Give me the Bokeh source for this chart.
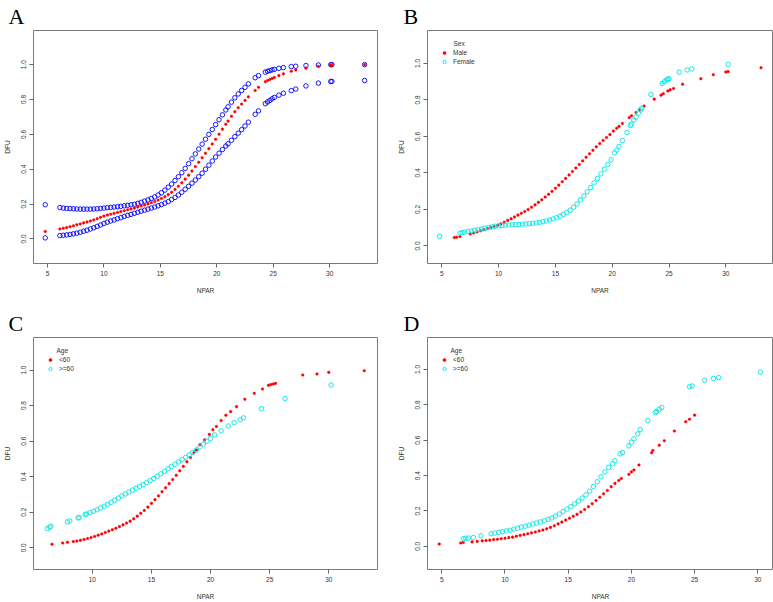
from bokeh.plotting import figure
from bokeh.layouts import column, row
from bokeh.models import (Range1d, FixedTicker, NumeralTickFormatter, Legend, LegendItem, Label)
from bokeh.embed import file_html
from bokeh.resources import INLINE

# ---------------- Panel A: overall fit with confidence limits ----------------
a_npar = [4.8, 6.1, 6.4, 6.7, 7.0, 7.3, 7.6, 7.9, 8.2, 8.5, 8.8, 9.1, 9.4, 9.7, 10.0, 10.3, 10.6, 10.9,
          11.2, 11.5, 11.8, 12.1, 12.4, 12.7, 13.0, 13.3, 13.6, 13.9, 14.2, 14.5, 14.8, 15.1, 15.4, 15.7,
          16.0, 16.3, 16.6, 16.9, 17.2, 17.5, 17.8, 18.1, 18.4, 18.7, 19.0, 19.3, 19.6, 19.9, 20.2, 20.5,
          20.8, 21.0, 21.3, 21.6, 21.9, 22.2, 22.5, 22.8, 23.4, 23.7, 24.3, 24.5, 24.7, 24.9, 25.1, 25.5,
          25.9, 26.6, 27.0, 27.9, 29.0, 30.1, 30.2, 33.1]
a_fit = [0.043, 0.057, 0.061, 0.065, 0.070, 0.075, 0.081, 0.086, 0.092, 0.097, 0.103, 0.109, 0.116, 0.124,
         0.131, 0.137, 0.142, 0.147, 0.152, 0.157, 0.162, 0.167, 0.172, 0.177, 0.183, 0.189, 0.195, 0.201,
         0.208, 0.215, 0.223, 0.232, 0.242, 0.254, 0.268, 0.284, 0.302, 0.322, 0.343, 0.366, 0.390, 0.415,
         0.440, 0.466, 0.492, 0.518, 0.545, 0.572, 0.601, 0.630, 0.658, 0.676, 0.704, 0.730, 0.753, 0.774,
         0.795, 0.815, 0.852, 0.870, 0.902, 0.909, 0.915, 0.921, 0.926, 0.937, 0.947, 0.962, 0.970, 0.980,
         0.990, 0.996, 0.996, 1.000]
a_upper = [0.196, 0.180, 0.177, 0.175, 0.174, 0.173, 0.172, 0.171, 0.171, 0.171, 0.171, 0.172, 0.173, 0.175,
           0.177, 0.179, 0.181, 0.183, 0.185, 0.187, 0.190, 0.193, 0.196, 0.199, 0.204, 0.210, 0.217, 0.224,
           0.232, 0.241, 0.252, 0.265, 0.280, 0.297, 0.315, 0.335, 0.357, 0.380, 0.405, 0.432, 0.460, 0.488,
           0.516, 0.544, 0.572, 0.600, 0.628, 0.656, 0.684, 0.712, 0.740, 0.758, 0.785, 0.810, 0.832, 0.852,
           0.870, 0.890, 0.925, 0.937, 0.957, 0.962, 0.966, 0.970, 0.973, 0.979, 0.983, 0.989, 0.991, 0.995,
           0.998, 1.000, 1.000, 1.000]
a_lower = [0.006, 0.019, 0.021, 0.023, 0.026, 0.029, 0.033, 0.038, 0.044, 0.050, 0.057, 0.064, 0.072, 0.080,
           0.089, 0.096, 0.103, 0.109, 0.116, 0.122, 0.129, 0.135, 0.141, 0.147, 0.153, 0.159, 0.165, 0.171,
           0.177, 0.183, 0.190, 0.197, 0.205, 0.214, 0.226, 0.238, 0.252, 0.268, 0.285, 0.302, 0.320, 0.338,
           0.357, 0.377, 0.400, 0.423, 0.447, 0.470, 0.492, 0.513, 0.533, 0.546, 0.566, 0.587, 0.607, 0.627,
           0.648, 0.670, 0.715, 0.735, 0.776, 0.786, 0.795, 0.804, 0.812, 0.825, 0.836, 0.851, 0.860, 0.878,
           0.894, 0.903, 0.904, 0.909]

# ---------------- Panel B: by sex ----------------
b_male_npar = [6.1, 6.3, 6.6, 7.5, 7.8, 8.1, 8.4, 8.7, 9.0, 9.3, 9.6, 9.9, 10.2, 10.5, 10.8, 11.1, 11.4, 11.7,
               12.0, 12.3, 12.6, 12.9, 13.2, 13.5, 13.8, 14.1, 14.4, 14.7, 15.0, 15.3, 15.6, 15.9, 16.2, 16.5,
               16.8, 17.1, 17.4, 17.7, 18.0, 18.3, 18.6, 18.9, 19.2, 19.5, 19.8, 20.1, 20.4, 20.6, 20.9, 21.5,
               21.7, 22.1, 22.4, 22.8, 23.7, 24.3, 24.5, 24.9, 25.1, 25.4, 26.2, 27.8, 28.9, 30.0, 30.2, 33.1]
b_male_dfu = [0.046, 0.048, 0.052, 0.066, 0.071, 0.077, 0.083, 0.089, 0.095, 0.101, 0.107, 0.113, 0.121, 0.130,
              0.140, 0.149, 0.159, 0.169, 0.179, 0.189, 0.200, 0.212, 0.225, 0.239, 0.253, 0.268, 0.283, 0.299,
              0.316, 0.333, 0.352, 0.370, 0.389, 0.408, 0.427, 0.446, 0.466, 0.486, 0.505, 0.524, 0.543, 0.561,
              0.578, 0.594, 0.610, 0.629, 0.645, 0.655, 0.671, 0.703, 0.713, 0.731, 0.746, 0.766, 0.804, 0.826,
              0.834, 0.849, 0.855, 0.862, 0.886, 0.916, 0.938, 0.953, 0.955, 0.976]
b_female_npar = [4.8, 6.6, 6.8, 7.0, 7.3, 7.6, 7.9, 8.2, 8.5, 8.8, 9.1, 9.4, 9.7, 10.0, 10.3, 10.6, 10.9, 11.2,
                 11.5, 11.8, 12.1, 12.4, 12.7, 13.0, 13.3, 13.6, 13.9, 14.2, 14.5, 14.8, 15.1, 15.4, 15.7, 16.0,
                 16.3, 16.6, 16.9, 17.2, 17.5, 17.8, 18.1, 18.4, 18.7, 19.0, 19.3, 19.6, 19.9, 20.2, 20.4, 20.6,
                 20.9, 21.3, 21.6, 21.7, 21.9, 22.1, 22.3, 22.5, 22.6, 23.4, 24.4, 24.6, 24.8, 24.9, 25.0, 25.9,
                 26.6, 27.0, 30.2]
b_female_dfu = [0.053, 0.070, 0.073, 0.076, 0.079, 0.082, 0.086, 0.089, 0.093, 0.097, 0.101, 0.105, 0.108,
                0.110, 0.112, 0.114, 0.115, 0.116, 0.117, 0.118, 0.119, 0.121, 0.122, 0.124, 0.126, 0.129,
                0.133, 0.137, 0.142, 0.148, 0.155, 0.163, 0.173, 0.183, 0.196, 0.212, 0.230, 0.252, 0.274,
                0.297, 0.320, 0.345, 0.370, 0.395, 0.420, 0.446, 0.472, 0.510, 0.525, 0.545, 0.578, 0.622,
                0.660, 0.668, 0.690, 0.705, 0.728, 0.745, 0.755, 0.830, 0.890, 0.900, 0.910, 0.913, 0.916,
                0.952, 0.964, 0.970, 0.994]

# ---------------- Panel C: by age ----------------
c_young_npar = [6.6, 7.5, 7.9, 8.4, 8.7, 9.0, 9.3, 9.6, 9.9, 10.2, 10.5, 10.8, 11.1, 11.4, 11.7, 12.0, 12.3,
                12.6, 12.9, 13.2, 13.5, 13.8, 14.1, 14.4, 14.7, 15.0, 15.3, 15.6, 15.9, 16.2, 16.5, 16.8, 17.1,
                17.4, 17.7, 18.0, 18.3, 18.6, 18.8, 19.1, 19.5, 19.9, 20.2, 20.5, 20.9, 21.3, 21.7, 22.2, 22.9,
                23.7, 24.4, 24.9, 25.1, 25.3, 25.5, 27.8, 29.0, 30.0, 33.0]
c_young_dfu = [0.020, 0.027, 0.031, 0.035, 0.038, 0.042, 0.047, 0.052, 0.058, 0.064, 0.071, 0.078, 0.086,
               0.094, 0.102, 0.110, 0.119, 0.129, 0.139, 0.150, 0.163, 0.178, 0.194, 0.210, 0.229, 0.250,
               0.271, 0.292, 0.315, 0.338, 0.361, 0.384, 0.408, 0.433, 0.458, 0.484, 0.508, 0.535, 0.550,
               0.580, 0.607, 0.638, 0.664, 0.682, 0.716, 0.746, 0.766, 0.794, 0.836, 0.869, 0.893, 0.914,
               0.918, 0.921, 0.925, 0.972, 0.978, 0.987, 0.996]
c_old_npar = [6.2, 6.4, 6.5, 7.9, 8.1, 8.8, 8.9, 9.4, 9.5, 9.8, 10.1, 10.4, 10.7, 11.0, 11.3, 11.6, 11.9,
              12.2, 12.5, 12.8, 13.1, 13.4, 13.7, 14.0, 14.3, 14.6, 14.9, 15.2, 15.5, 15.8, 16.1, 16.4, 16.7,
              17.0, 17.3, 17.6, 17.9, 18.2, 18.5, 18.8, 19.1, 19.4, 19.7, 20.0, 20.35, 20.9, 21.5, 22.0, 22.5,
              22.8, 24.3, 26.3, 30.2]
c_old_dfu = [0.108, 0.116, 0.121, 0.146, 0.151, 0.168, 0.171, 0.187, 0.190, 0.197, 0.205, 0.214, 0.224, 0.234,
             0.245, 0.256, 0.268, 0.280, 0.292, 0.303, 0.314, 0.325, 0.335, 0.346, 0.356, 0.367, 0.378, 0.390,
             0.403, 0.416, 0.430, 0.444, 0.457, 0.470, 0.483, 0.496, 0.509, 0.523, 0.537, 0.551, 0.567, 0.584,
             0.600, 0.615, 0.635, 0.658, 0.685, 0.704, 0.720, 0.731, 0.783, 0.839, 0.916]

# ---------------- Panel D: by age (second model) ----------------
d_young_npar = [4.8, 6.5, 6.7, 7.4, 7.8, 8.2, 8.5, 8.8, 9.1, 9.4, 9.7, 10.0, 10.3, 10.6, 10.9, 11.2, 11.5,
                11.8, 12.1, 12.4, 12.7, 13.0, 13.3, 13.6, 13.9, 14.2, 14.5, 14.8, 15.1, 15.4, 15.7, 16.0, 16.3,
                16.6, 16.9, 17.2, 17.5, 17.8, 18.1, 18.4, 18.7, 19.0, 19.2, 19.8, 20.0, 20.2, 20.6, 21.6, 21.7,
                22.2, 22.6, 23.4, 24.3, 24.6, 25.0]
d_young_dfu = [0.013, 0.019, 0.022, 0.025, 0.028, 0.031, 0.033, 0.035, 0.038, 0.040, 0.043, 0.046, 0.049,
               0.052, 0.057, 0.062, 0.066, 0.071, 0.076, 0.081, 0.087, 0.092, 0.099, 0.107, 0.116, 0.127,
               0.137, 0.148, 0.159, 0.170, 0.181, 0.194, 0.208, 0.224, 0.241, 0.259, 0.278, 0.297, 0.316,
               0.337, 0.356, 0.372, 0.383, 0.407, 0.421, 0.432, 0.460, 0.529, 0.542, 0.572, 0.597, 0.652,
               0.705, 0.719, 0.742]
d_old_npar = [6.7, 6.9, 7.1, 7.5, 8.1, 8.9, 9.2, 9.5, 9.8, 10.1, 10.4, 10.7, 11.0, 11.3, 11.6, 11.9, 12.2,
              12.5, 12.8, 13.1, 13.4, 13.7, 14.0, 14.3, 14.6, 14.9, 15.2, 15.5, 15.8, 16.1, 16.4, 16.7, 17.0,
              17.3, 17.6, 17.9, 18.2, 18.5, 18.7, 19.1, 19.3, 19.8, 20.0, 20.2, 20.5, 20.7, 21.3, 21.9, 22.0,
              22.2, 22.4, 24.6, 24.8, 25.8, 26.5, 26.9, 30.2]
d_old_dfu = [0.043, 0.046, 0.047, 0.050, 0.060, 0.071, 0.075, 0.079, 0.083, 0.087, 0.091, 0.097, 0.103, 0.109,
             0.114, 0.120, 0.126, 0.132, 0.138, 0.144, 0.152, 0.161, 0.171, 0.183, 0.197, 0.211, 0.225, 0.240,
             0.256, 0.273, 0.291, 0.312, 0.339, 0.365, 0.393, 0.421, 0.446, 0.467, 0.484, 0.523, 0.530, 0.568,
             0.589, 0.608, 0.636, 0.660, 0.711, 0.757, 0.763, 0.776, 0.785, 0.903, 0.907, 0.939, 0.950, 0.954,
             0.985]

y_ticks = [0.0, 0.2, 0.4, 0.6, 0.8, 1.0]
x_ticks_abd = [5, 10, 15, 20, 25, 30]
x_ticks_c = [10, 15, 20, 25, 30]

RED = "#FF0000"
BLUE = "#0000FF"
CYAN = "#00E5E5"
FONT = "Liberation Sans"
TXT = "#333333"


def make_panel(width, height, borders, xr, yr, xticks, letter, letter_offset):
    left, right, top, bottom = borders
    p = figure(width=width, height=height, output_backend="svg", toolbar_location=None,
               x_range=Range1d(*xr), y_range=Range1d(*yr),
               min_border_left=left, min_border_right=right, min_border_top=top, min_border_bottom=bottom)
    p.title.text = letter
    p.title.text_font = "Liberation Serif"
    p.title.text_font_size = "22px"
    p.title.text_font_style = "normal"
    p.title.text_color = "black"
    p.title.align = "left"
    p.title.offset = letter_offset
    p.title.standoff = 3
    p.grid.visible = False
    p.outline_line_color = "#7a7a7a"
    p.outline_line_width = 1
    p.background_fill_color = "white"
    p.border_fill_color = "white"
    p.xaxis.ticker = FixedTicker(ticks=xticks)
    p.yaxis.ticker = FixedTicker(ticks=y_ticks)
    p.yaxis.formatter = NumeralTickFormatter(format="0.0")
    p.yaxis.major_label_orientation = "vertical"
    for ax in (p.xaxis[0], p.yaxis[0]):
        ax.axis_line_color = None
        ax.major_tick_line_color = "#666666"
        ax.major_tick_out = 4
        ax.major_tick_in = 0
        ax.minor_tick_line_color = None
        ax.major_label_text_font = FONT
        ax.major_label_text_font_size = "6.5px"
        ax.major_label_text_color = TXT
        ax.major_label_standoff = 3
        ax.axis_label_text_font = FONT
        ax.axis_label_text_font_size = "6.5px"
        ax.axis_label_text_font_style = "normal"
        ax.axis_label_text_color = TXT
        ax.axis_label_standoff = 8
    p.xaxis.axis_label = "NPAR"
    p.yaxis.axis_label = "DFU"
    return p


def add_legend(p, title, title_pos, items, loc):
    leg = Legend(items=[LegendItem(label=lab, renderers=[r]) for lab, r in items], location=loc,
                 padding=0, margin=0, spacing=0, glyph_width=8, glyph_height=9, label_height=9,
                 label_standoff=5, label_text_font=FONT, label_text_font_size="6.5px",
                 label_text_color=TXT, background_fill_alpha=0, border_line_color=None)
    p.add_layout(leg)
    tx, ty = title_pos
    p.add_layout(Label(x=tx, y=ty, x_units="screen", y_units="screen", text=title,
                       text_font=FONT, text_font_size="6.5px", text_color=TXT, text_baseline="middle"))


# A
pA = make_panel(386, 300, (32, 9, 29, 37), (3.76, 34.24), (-0.141, 1.196), x_ticks_abd, "A", -25)
pA.scatter(a_npar, a_upper, size=4.5, marker="circle", fill_color=None, line_color=BLUE, line_width=0.9)
pA.scatter(a_npar, a_lower, size=4.5, marker="circle", fill_color=None, line_color=BLUE, line_width=0.9)
pA.scatter(a_npar, a_fit, size=2.6, marker="circle", fill_color=RED, line_color=RED, line_width=0.5)

# B
pB = make_panel(387, 300, (41, 1, 29, 37), (3.74, 34.11), (-0.096, 1.18), x_ticks_abd, "B", -24)
rm = pB.scatter(b_male_npar, b_male_dfu, size=2.6, marker="circle", fill_color=RED, line_color=RED,
                line_width=0.5)
rf = pB.scatter(b_female_npar, b_female_dfu, size=4.5, marker="circle", fill_color=None, line_color=CYAN,
                line_width=0.9)
add_legend(pB, "Sex", (26, 220), [("Male", rm), ("Female", rf)], (13, 197))

# C
pC = make_panel(386, 302, (32, 9, 37, 32), (5.03, 34.12), (-0.122, 1.183), x_ticks_c, "C", -25)
ry = pC.scatter(c_young_npar, c_young_dfu, size=2.6, marker="circle", fill_color=RED, line_color=RED,
                line_width=0.5)
ro = pC.scatter(c_old_npar, c_old_dfu, size=4.5, marker="circle", fill_color=None, line_color=CYAN,
                line_width=0.9)
add_legend(pC, "Age", (23, 219), [("<60", ry), (">=60", ro)], (13, 196))

# D
pD = make_panel(387, 302, (41, 0, 36, 32), (3.87, 31.24), (-0.131, 1.181), x_ticks_abd, "D", -24)
ry2 = pD.scatter(d_young_npar, d_young_dfu, size=2.6, marker="circle", fill_color=RED, line_color=RED,
                 line_width=0.5)
ro2 = pD.scatter(d_old_npar, d_old_dfu, size=4.5, marker="circle", fill_color=None, line_color=CYAN,
                 line_width=0.9)
add_legend(pD, "Age", (23, 219), [("<60", ry2), (">=60", ro2)], (13, 196))

layout = column(row(pA, pB), row(pC, pD))
open("out.html", "w").write(file_html(layout, INLINE))
